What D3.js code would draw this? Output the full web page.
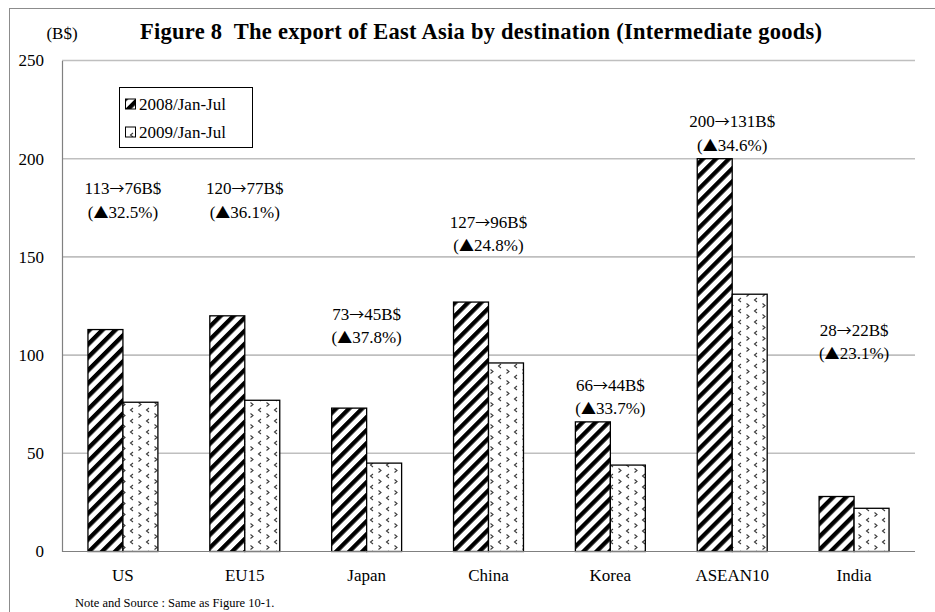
<!DOCTYPE html>
<html><head><meta charset="utf-8">
<script src="https://cdn.jsdelivr.net/npm/d3@7"></script>
<style>
body{margin:0;background:#fff;}
svg text{font-family:"Liberation Serif","Times New Roman",serif;fill:#000;}
.cjk{font-family:"Noto Sans CJK JP","Noto Sans CJK SC",sans-serif;}
</style></head>
<body><svg id="c" width="935" height="612"></svg>
<script>
const categories = ["US","EU15","Japan","China","Korea","ASEAN10","India"];
const series = ["2008/Jan-Jul","2009/Jan-Jul"];
const values2008 = [113,120,73,127,66,200,28];
const values2009 = [76,77,45,96,44,131,22];
const fromLabels = ["113","120","73","127","66","200","28"];
const toLabels = ["76B$","77B$","45B$","96B$","44B$","131B$","22B$"];
const pctLabels = ["32.5%","36.1%","37.8%","24.8%","33.7%","34.6%","23.1%"];
const labelLevels = [173,173,109,156,73,207,101];
const yTicks = [0,50,100,150,200,250];

const svg = d3.select("#c");
const L = 62, R = 915, T = 60.5, B = 551.5;

// patterns
const defs = svg.append("defs");
const p1 = defs.append("pattern").attr("id","stripe").attr("patternUnits","userSpaceOnUse")
  .attr("width",9.2).attr("height",9.2).attr("patternTransform","rotate(45)");
p1.append("rect").attr("width",9.2).attr("height",9.2).attr("fill","#fff");
p1.append("rect").attr("width",4.3).attr("height",9.2).attr("fill","#000");

const p2 = defs.append("pattern").attr("id","chev").attr("patternUnits","userSpaceOnUse")
  .attr("width",16).attr("height",11);
p2.append("rect").attr("width",16).attr("height",11).attr("fill","#fff");
p2.append("path").attr("d","M5,1 L2.5,3 L5,5").attr("fill","none").attr("stroke","#3a3a3a").attr("stroke-width",1.1);
p2.append("path").attr("d","M10.5,6.5 L13,8.5 L10.5,10.5").attr("fill","none").attr("stroke","#3a3a3a").attr("stroke-width",1.1);

// outer frame
svg.append("rect").attr("x",9.5).attr("y",8.5).attr("width",940).attr("height",620)
  .attr("fill","none").attr("stroke","#8c8c8c").attr("stroke-width",1);

const x = d3.scaleBand().domain(categories).range([L,R]).paddingInner(0.426).paddingOuter(0.213);
const xs = d3.scaleBand().domain(series).range([0,x.bandwidth()]);
const y = d3.scaleLinear().domain([0,250]).range([B,T]);

// gridlines
svg.append("g").selectAll("line").data(yTicks.filter(d=>d>0)).join("line")
  .attr("x1",L).attr("x2",R).attr("y1",d=>y(d)).attr("y2",d=>y(d))
  .attr("stroke","#bfbfbf").attr("stroke-width",1.6);

// y axis
const yAxis = svg.append("g").attr("transform",`translate(${L},0)`)
  .call(d3.axisLeft(y).tickValues(yTicks).tickSize(0).tickPadding(18));
yAxis.attr("font-family",null);
yAxis.select(".domain").attr("stroke","#808080").attr("stroke-width",1.2);
yAxis.selectAll("text").style("font-size","17px");

// bars
const fills = ["url(#stripe)","url(#chev)"];
const data = categories.map((c,i)=>({c, v:[values2008[i],values2009[i]]}));
const g = svg.append("g");
data.forEach(d=>{
  series.forEach((s,j)=>{
    g.append("rect").attr("x",x(d.c)+xs(s)).attr("y",y(d.v[j]))
      .attr("width",xs.bandwidth()).attr("height",y(0)-y(d.v[j]))
      .attr("fill",fills[j]).attr("stroke","#000").attr("stroke-width",1.3);
  });
});

// x axis baseline
svg.append("line").attr("x1",L).attr("x2",R).attr("y1",B).attr("y2",B)
  .attr("stroke","#808080").attr("stroke-width",1.2);
// x labels
const xAxis = svg.append("g").attr("transform",`translate(0,${B})`)
  .call(d3.axisBottom(x).tickSize(0).tickPadding(17));
xAxis.attr("font-family",null);
xAxis.select(".domain").remove();
xAxis.selectAll("text").style("font-size","17px");

// annotations
data.forEach((d,i)=>{
  const cx = x(d.c)+x.bandwidth()/2;
  const yl = y(labelLevels[i]);
  const t1 = svg.append("text").attr("x",cx).attr("y",yl-17.5).attr("text-anchor","middle")
    .style("font-size","17px");
  t1.append("tspan").text(fromLabels[i]);
  t1.append("tspan").attr("class","cjk").style("font-size","15px").text("→");
  t1.append("tspan").text(toLabels[i]);
  const t2 = svg.append("text").attr("x",cx).attr("y",yl+6).attr("text-anchor","middle")
    .style("font-size","17px");
  t2.append("tspan").text("(");
  t2.append("tspan").attr("class","cjk").style("font-size","15px").text("▲");
  t2.append("tspan").text(pctLabels[i] + ")");
});

// title and unit
svg.append("text").attr("x",140).attr("y",39)
  .style("font-size","22.5px").style("font-weight","bold").style("white-space","pre")
  .attr("textLength",682).attr("lengthAdjust","spacing")
  .text("Figure 8  The export of East Asia by destination (Intermediate goods)");
svg.append("text").attr("x",62).attr("y",39).attr("text-anchor","middle")
  .style("font-size","17px").text("(B$)");

// legend
const lg = svg.append("g");
lg.append("rect").attr("x",119.5).attr("y",87.5).attr("width",133).attr("height",60)
  .attr("fill","#fff").attr("stroke","#000").attr("stroke-width",1);
series.forEach((s,j)=>{
  const cy = 104 + j*28;
  lg.append("rect").attr("x",125.5).attr("y",cy-5).attr("width",10).attr("height",10)
    .attr("fill",fills[j]).attr("stroke","#000").attr("stroke-width",1);
  lg.append("text").attr("x",139).attr("y",cy+6).style("font-size","17px").text(s);
});

// note
svg.append("text").attr("x",75).attr("y",607).style("font-size","12.5px")
  .text("Note and Source : Same as Figure 10-1.");
</script></body></html>
